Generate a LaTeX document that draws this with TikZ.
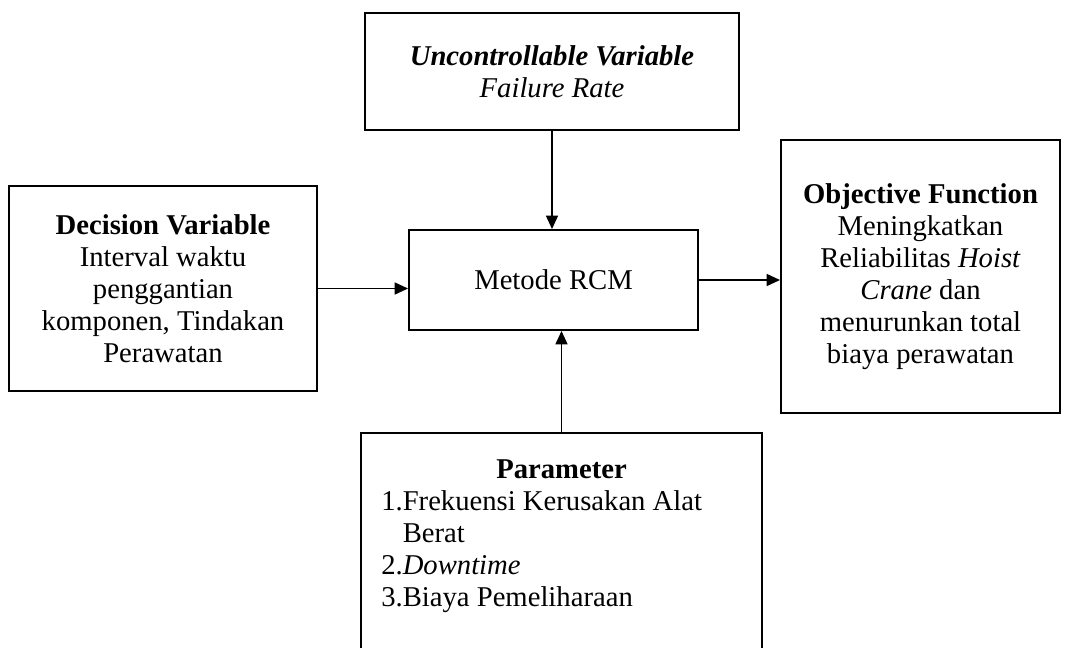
\documentclass[tikz,border=0pt]{standalone}
\usepackage{fontspec}
\setmainfont{Liberation Serif}
\usetikzlibrary{arrows.meta,positioning,calc}
\newcommand{\teks}{\fontsize{21.5pt}{24pt}\selectfont}

\begin{document}
\begin{tikzpicture}[x=0.75pt,y=-0.75pt,
  kotak/.style={draw,line width=1.5pt,align=center,inner sep=0pt,font=\teks},
  tulisan/.style={inner sep=0pt,font=\teks},
  panah/.style={-{Triangle[length=10pt,width=9pt]},line width=1.2pt}]
  \useasboundingbox (0,0) rectangle (1065,647);
  \clip (0,0) rectangle (1065,647);
  % kotak
  \node[kotak,minimum width=280.5pt,minimum height=87.75pt] (uncontrol) at (552,71.5)
    {\textbf{\textit{Uncontrollable Variable}}\\ \textit{Failure Rate}};
  \node[kotak,minimum width=231pt,minimum height=153.75pt] (decision) at (163,288.5)
    {\textbf{Decision Variable}\\ Interval waktu\\ penggantian\\ komponen, Tindakan\\ Perawatan};
  \node[kotak,minimum width=216.75pt,minimum height=75pt] (rcm) at (553.5,280) {Metode RCM};
  \node[kotak,minimum width=209.25pt,minimum height=204.75pt] (objective) at (920.5,276.5)
    {\textbf{Objective Function}\\ Meningkatkan\\ Reliabilitas \textit{Hoist}\\ \textit{Crane} dan\\ menurunkan total\\ biaya perawatan};
  \node[kotak,minimum width=300.75pt,minimum height=185.25pt] (parameter) at (561.5,556.5) {};
  \node[tulisan,anchor=base] (paramjudul) at (561.5,478) {\textbf{Parameter}};
  \node[tulisan,anchor=base west] (paramisi) at (381,510)
    {\begin{tabular}[t]{@{}l@{}l@{}}
      1.&Frekuensi Kerusakan Alat\\
        &Berat\\
      2.&\textit{Downtime}\\
      3.&Biaya Pemeliharaan
    \end{tabular}};
  % panah
  \draw[panah] (uncontrol.south) -- (uncontrol.south |- rcm.north);
  \draw[panah] (decision.east) -- (decision.east -| rcm.west);
  \draw[panah] (rcm.east) -- (rcm.east -| objective.west);
  \draw[panah] (parameter.north) -- (parameter.north |- rcm.south);
\end{tikzpicture}
\end{document}
